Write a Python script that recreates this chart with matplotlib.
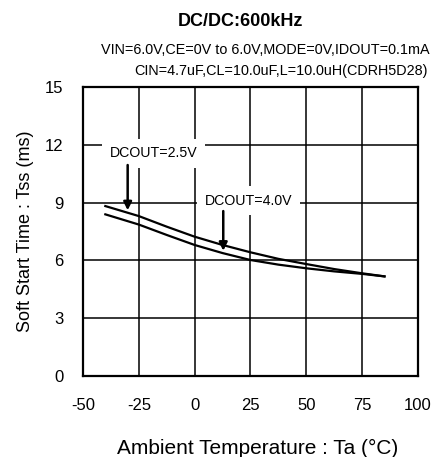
import matplotlib
matplotlib.use("Agg")
import matplotlib.pyplot as plt

plt.rcParams['font.family'] = ['Liberation Sans', 'DejaVu Sans']
plt.rcParams['axes.unicode_minus'] = False

# Data
temp = [-40, -25, -12.5, 0, 12.5, 25, 37.5, 50, 62.5, 75, 85]
tss_25 = [8.82, 8.30, 7.75, 7.23, 6.80, 6.42, 6.08, 5.81, 5.55, 5.33, 5.17]
tss_40 = [8.39, 7.86, 7.32, 6.80, 6.38, 6.02, 5.78, 5.59, 5.43, 5.30, 5.17]
xticks = [-50, -25, 0, 25, 50, 75, 100]
yticks = [0, 3, 6, 9, 12, 15]

fig = plt.figure(figsize=(4.33, 4.57), dpi=100)
ax = fig.add_axes([83/433, 1-376/457, (418-83)/433, (376-87)/457])

ax.plot(temp, tss_25, color='black', lw=1.6, zorder=2)
ax.plot(temp, tss_40, color='black', lw=1.6, zorder=2)

ax.set_xlim(-50, 100)
ax.set_ylim(0, 15)
ax.set_xticks(xticks)
ax.set_yticks(yticks)
ax.tick_params(length=0, labelsize=12)
ax.tick_params(axis='y', pad=14)
ax.tick_params(axis='x', pad=16)
ax.set_axisbelow(True)
ax.grid(True, color='black', lw=1.1)
for s in ax.spines.values():
    s.set_linewidth(1.6)

ax.set_xlabel('Ambient Temperature : Ta (°C)', fontsize=15)
ax.xaxis.set_label_coords((257.5-83)/335, -(448-376)/289)
ax.xaxis.label.set_va('center')
ax.set_ylabel('Soft Start Time : Tss (ms)', fontsize=13, labelpad=8)

bb = dict(facecolor='white', edgecolor='none', boxstyle='square,pad=0.55')
ax.text(-18.5, 11.55, 'DCOUT=2.5V', fontsize=10.2, ha='center', va='center', bbox=bb, zorder=3)
ax.text(24.2, 9.1, 'DCOUT=4.0V', fontsize=10.2, ha='center', va='center', bbox=bb, zorder=3)

ap = dict(arrowstyle='-|>', lw=1.8, color='black', mutation_scale=12, shrinkA=0, shrinkB=0)
ax.annotate('', xy=(-30, 8.6), xytext=(-30, 10.95), arrowprops=ap, zorder=4)
ax.annotate('', xy=(12.8, 6.5), xytext=(12.8, 8.56), arrowprops=ap, zorder=4)

fig.text(240/433, 1-21/457, 'DC/DC:600kHz', fontsize=13, fontweight='bold', ha='center', va='center')
fig.text(430/433, 1-50/457, 'VIN=6.0V,CE=0V to 6.0V,MODE=0V,IDOUT=0.1mA', fontsize=10.4, ha='right', va='center')
fig.text(428/433, 1-70.5/457, 'CIN=4.7uF,CL=10.0uF,L=10.0uH(CDRH5D28)', fontsize=10.4, ha='right', va='center')

fig.savefig('out.png', dpi=100)
